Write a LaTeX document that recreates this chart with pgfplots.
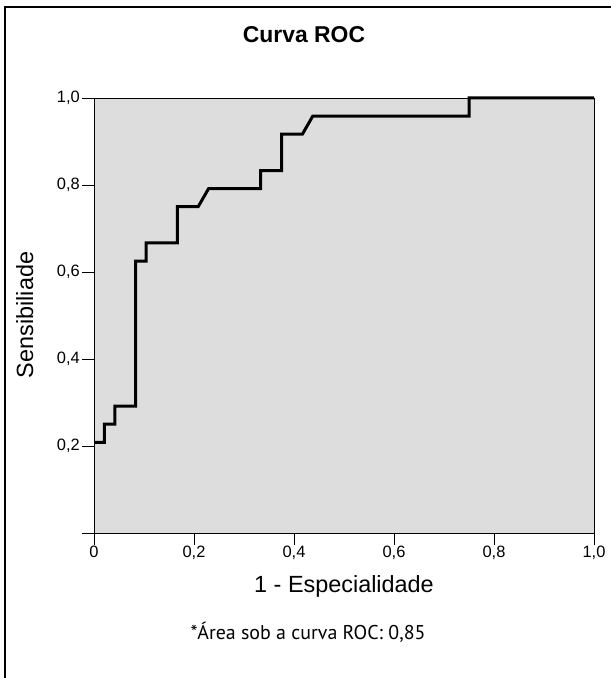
\documentclass[border=0pt]{standalone}
\usepackage{pgfplots}
\pgfplotsset{compat=1.18}
\usepackage{fontspec}
\setmainfont{Liberation Sans}
\newfontfamily\notefont{PT Sans}
\definecolor{plotbg}{HTML}{DDDDDD}

\begin{document}
\begin{tikzpicture}[x=1bp,y=1bp]
\useasboundingbox (0,0) rectangle (611,678);
% frame (cropped: only top and left visible)
\draw[line width=2bp] (5,0) -- (5,671) -- (611,671);

\node[anchor=base, font=\bfseries\fontsize{23}{27}\selectfont] at (304,635) {Curva ROC};

\begin{axis}[
  at={(94bp,145bp)}, anchor=south west,
  scale only axis, width=500bp, height=435bp,
  xmin=0, xmax=1, ymin=0, ymax=1,
  clip=false,
  axis background/.style={fill=plotbg},
  axis line style={line width=0.8bp},
  tick pos=left, tick align=outside,
  major tick length=12bp,
  tick style={line width=0.8bp, black},
  xtick={0,0.2,0.4,0.6,0.8,1},
  xticklabels={0,{0,2},{0,4},{0,6},{0,8},{1,0}},
  ytick={0,0.2,0.4,0.6,0.8,1},
  yticklabels={{},{0,2},{0,4},{0,6},{0,8},{1,0}},
  /pgf/number format/assume math mode=true,
  tick label style={font=\fontsize{16.5}{19}\selectfont},
  xticklabel style={inner sep=1bp},
  yticklabel style={inner sep=2bp},
]
\addplot[black, line width=3bp, line join=miter] coordinates {
(0,0.2083) (0.0208,0.2083) (0.0208,0.25) (0.0417,0.25) (0.0417,0.2917)
(0.0833,0.2917) (0.0833,0.625) (0.1042,0.625) (0.1042,0.6667)
(0.1667,0.6667) (0.1667,0.75) (0.2083,0.75) (0.2292,0.7917)
(0.3333,0.7917) (0.3333,0.8333) (0.375,0.8333) (0.375,0.9167)
(0.4167,0.9167) (0.4375,0.9583) (0.75,0.9583) (0.75,1) (1,1)
};
\end{axis}

\node[anchor=base, font=\fontsize{23.5}{28}\selectfont] at (344,85) {1 - Especialidade};
\node[anchor=base, rotate=90, font=\fontsize{23.5}{28}\selectfont] at (33,363) {Sensibiliade};
\node[anchor=base, font=\notefont\fontsize{20}{24}\selectfont] at (308,38) {*Área sob a curva ROC: 0,85};
\end{tikzpicture}
\end{document}
